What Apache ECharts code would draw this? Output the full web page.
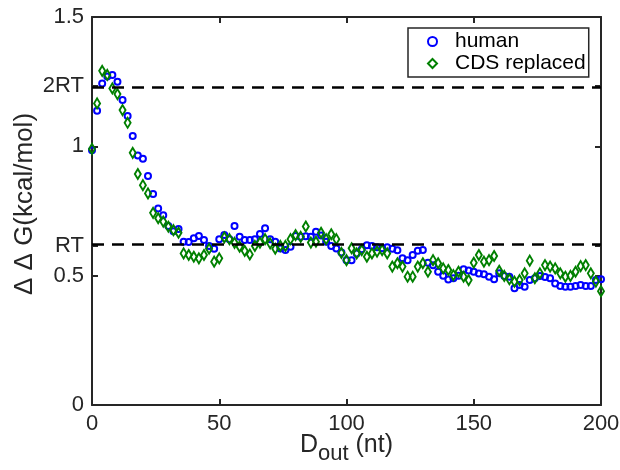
<!DOCTYPE html>
<html>
<head>
<meta charset="utf-8">
<script src="https://cdn.jsdelivr.net/npm/echarts@6/dist/echarts.min.js"></script>
<style>html,body{margin:0;padding:0;background:#fff}#c{width:620px;height:470px}</style>
</head>
<body>
<div id="c"></div>
<script>
const RT = 0.6163;
const dOut = [0,2,4,6,8,10,12,14,16,18,20,22,24,26,28,30,32,34,36,38,40,42,44,46,48,50,52,54,56,58,60,62,64,66,68,70,72,74,76,78,80,82,84,86,88,90,92,94,96,98,100,102,104,106,108,110,112,114,116,118,120,122,124,126,128,130,132,134,136,138,140,142,144,146,148,150,152,154,156,158,160,162,164,166,168,170,172,174,176,178,180,182,184,186,188,190,192,194,196,198,200];
const human = [0.985,1.138,1.243,1.27,1.276,1.25,1.179,1.117,1.04,0.965,0.952,0.885,0.816,0.760,0.734,0.692,0.672,0.68,0.631,0.63,0.645,0.653,0.638,0.615,0.604,0.641,0.657,0.641,0.692,0.65,0.638,0.638,0.641,0.661,0.683,0.641,0.631,0.605,0.599,0.612,0.653,0.65,0.652,0.65,0.67,0.655,0.631,0.615,0.605,0.59,0.56,0.56,0.586,0.602,0.618,0.615,0.61,0.606,0.61,0.604,0.598,0.567,0.56,0.58,0.596,0.599,0.55,0.54,0.515,0.50,0.485,0.49,0.50,0.525,0.52,0.515,0.508,0.505,0.496,0.486,0.509,0.499,0.496,0.451,0.464,0.457,0.483,0.49,0.499,0.495,0.49,0.47,0.46,0.457,0.457,0.46,0.464,0.46,0.46,0.483,0.486];
const cdsReplaced = [0.99,1.166,1.292,1.276,1.224,1.202,1.14,1.091,0.975,0.893,0.85,0.818,0.743,0.722,0.709,0.689,0.676,0.666,0.586,0.58,0.573,0.567,0.58,0.604,0.554,0.567,0.648,0.641,0.627,0.612,0.596,0.582,0.615,0.628,0.641,0.625,0.604,0.615,0.615,0.641,0.657,0.65,0.69,0.628,0.631,0.666,0.641,0.66,0.641,0.588,0.56,0.606,0.586,0.599,0.573,0.586,0.593,0.599,0.586,0.535,0.548,0.535,0.496,0.496,0.535,0.548,0.515,0.56,0.548,0.528,0.522,0.502,0.515,0.496,0.483,0.55,0.58,0.554,0.56,0.576,0.519,0.499,0.486,0.477,0.483,0.509,0.558,0.49,0.509,0.541,0.535,0.528,0.509,0.496,0.499,0.515,0.537,0.541,0.509,0.477,0.44];
const yTicks = [0, 0.5, RT, 1, 2*RT, 1.5];
const yTickLabels = ['0', '0.5', 'RT', '1', '2RT', '1.5'];
const seriesNames = ['human', 'CDS replaced'];

const ink = '#262626';
const font = 'Liberation Sans, Arial, Helvetica, sans-serif';
function yLabel(v){
  for (let i=0;i<yTicks.length;i++) if (Math.abs(v-yTicks[i])<1e-6) return yTickLabels[i];
  return '';
}
const chart = echarts.init(document.getElementById('c'));
const axisLine = {show:true, onZero:false, lineStyle:{color:ink, width:2}};
chart.setOption({
  animation:false,
  grid:{left:92, right:19, top:17, bottom:65, outerBoundsMode:'none', containLabel:false},
  legend:{
    orient:'vertical', left:408, top:28,
    padding:[3,3,3,19], itemGap:1,
    borderColor:ink, borderWidth:1.5, backgroundColor:'#fff',
    itemWidth:9, itemHeight:9,
    textStyle:{fontFamily:font, fontSize:21, color:'#000', lineHeight:18, padding:[0,0,0,13]},
    data:[
      {name:seriesNames[0], icon:'circle', itemStyle:{color:'rgba(0,0,0,0)', borderColor:'#0000ff', borderWidth:2}},
      {name:seriesNames[1], icon:'diamond', itemStyle:{color:'rgba(0,0,0,0)', borderColor:'#008000', borderWidth:2}}
    ]
  },
  xAxis:[{
    type:'value', min:0, max:200, interval:50, position:'bottom',
    axisLine:axisLine, splitLine:{show:false},
    axisTick:{inside:true, length:6, lineStyle:{color:ink, width:2}},
    axisLabel:{fontFamily:font, fontSize:22, color:ink, margin:8},
    name:'{d|D}{s|out}{d| (nt)}', nameLocation:'middle', nameGap:28, nameMoveOverlap:false,
    nameTextStyle:{rich:{
      d:{fontFamily:font, fontSize:25, color:ink, verticalAlign:'bottom', padding:[0,0,7,0]},
      s:{fontFamily:font, fontSize:22, color:ink, verticalAlign:'bottom'}}}
  },{
    type:'value', min:0, max:200, interval:50, position:'top',
    axisLine:axisLine, splitLine:{show:false},
    axisTick:{inside:true, length:6, lineStyle:{color:ink, width:2}},
    axisLabel:{show:false}
  }],
  yAxis:[{
    type:'value', min:0, max:1.5, position:'left',
    axisLine:axisLine, splitLine:{show:false},
    axisTick:{inside:true, length:6, customValues:yTicks, lineStyle:{color:ink, width:2}},
    axisLabel:{fontFamily:font, fontSize:22, color:ink, margin:8, customValues:yTicks, formatter:yLabel},
    name:'Δ Δ G(kcal/mol)', nameLocation:'middle', nameGap:54, nameMoveOverlap:false,
    nameTextStyle:{fontFamily:font, fontSize:26, color:ink, padding:[0,0,0,14]}
  },{
    type:'value', min:0, max:1.5, position:'right',
    axisLine:axisLine, splitLine:{show:false},
    axisTick:{inside:true, length:6, customValues:yTicks, lineStyle:{color:ink, width:2}},
    axisLabel:{show:false}
  }],
  series:[{
    name:seriesNames[0], type:'scatter', symbol:'circle', symbolSize:6,
    itemStyle:{color:'rgba(0,0,0,0)', borderColor:'#0000ff', borderWidth:2, opacity:1},
    data:dOut.map((d,i)=>[d, human[i]]),
    markLine:{silent:true, symbol:'none', label:{show:false},
      lineStyle:{color:'#000', width:2.5, type:[12,8]},
      data:[{yAxis:RT},{yAxis:2*RT}]}
  },{
    name:seriesNames[1], type:'scatter', symbol:'diamond', symbolSize:[6,10],
    itemStyle:{color:'rgba(0,0,0,0)', borderColor:'#008000', borderWidth:2, opacity:1},
    data:dOut.map((d,i)=>[d, cdsReplaced[i]])
  }]
});
</script>
</body>
</html>
